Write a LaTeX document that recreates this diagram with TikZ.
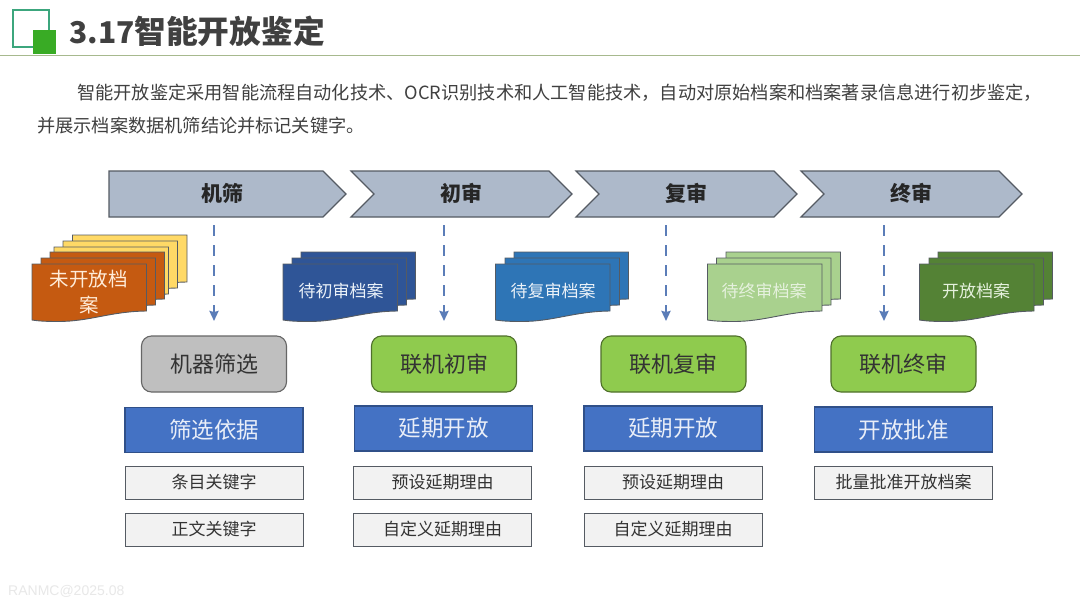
\documentclass[tikz,border=0pt]{standalone}
\usepackage{fontspec}
\setmainfont{Noto Sans CJK SC}
\newfontfamily\wmfont{Liberation Sans}
\usetikzlibrary{arrows.meta}
\newcommand\fsz[1]{\fontsize{#1pt}{#1pt}\selectfont}
\definecolor{cOrange}{HTML}{C55A11}
\definecolor{cYellow}{HTML}{FFD966}
\definecolor{cNavy}{HTML}{2F5597}
\definecolor{cBlue}{HTML}{2E75B6}
\definecolor{cSage}{HTML}{A9D18E}
\definecolor{cMoss}{HTML}{548235}
\definecolor{cHead}{HTML}{4472C4}
\definecolor{cGrey}{HTML}{BFBFBF}
\definecolor{cLime}{HTML}{8FCB4E}
\definecolor{cChev}{HTML}{ADB9CA}
\definecolor{cDark}{HTML}{404040}
\definecolor{cEdge}{HTML}{555B63}
\definecolor{cArrow}{HTML}{5B7DB8}
\definecolor{cSquare}{HTML}{39AB25}
\definecolor{cFrame}{HTML}{3CA67D}
\definecolor{cRule}{HTML}{A7B98E}
\newcommand\docpage[3]{\draw[docline,fill=#3,shift={(#1,#2)}] (0,0) -- (114.5,0) -- (114.5,47)
  .. controls (78,47.5) and (58,57.5) .. (26,57.5) .. controls (14,57.5) and (6,57) .. (0,56) -- cycle;}
\tikzset{
  x=1pt,y=-1pt,
  docline/.style={draw=cEdge,line width=0.9pt},
  stagebox/.style={draw=cEdge,fill=cChev,line width=1.1pt},
  stagetext/.style={text=black!85,font=\fsz{21}\bfseries},
  flowarrow/.style={draw=cArrow,line width=2.6pt,dash pattern=on 11pt off 9pt,-{Stealth[length=10pt,width=9pt,inset=1pt]}},
  modebox/.style={draw=#1,rounded corners=10pt,line width=1.1pt,minimum width=145pt,minimum height=56pt,inner sep=0pt,text=black!80,font=\fsz{22}},
  headbox/.style={draw=cHead!70!black,fill=cHead,line width=1.1pt,minimum width=178pt,minimum height=45pt,inner sep=0pt,text=cHead!12!white,font=\fsz{22.5}},
  itembox/.style={draw=cEdge,fill=black!5,line width=1pt,minimum width=178pt,minimum height=33pt,inner sep=0pt,text=black!80,font=\fsz{17}},
  doclabel/.style={font=\fsz{17},inner sep=0pt},
}
\begin{document}
\begin{tikzpicture}
\useasboundingbox (0,0) rectangle (1080,608);
\fill[white] (0,0) rectangle (1080,608);
% header
\draw[draw=cFrame,line width=2pt] (13,9.5) rectangle (49,47);
\fill[fill=cSquare] (33,30) rectangle (56,54);
\draw[draw=cRule,line width=0.9pt] (0,55) -- (1080,55);
\node[anchor=west,inner sep=0pt,text=cDark,font=\fsz{31.7}\bfseries] (title) at (69,31) {{\fsz{30}3.17}智能开放鉴定};
\node[anchor=west,inner sep=0pt,text=cDark,font=\fsz{18.2}] (bodya) at (77,93) {智能开放鉴定采用智能流程自动化技术、OCR识别技术和人工智能技术^^^^ff0c自动对原始档案和档案著录信息进行初步鉴定^^^^ff0c};
\node[anchor=west,inner sep=0pt,text=cDark,font=\fsz{18.2}] (bodyb) at (37,126) {并展示档案数据机筛结论并标记关键字。};
% stages
\draw[stagebox] (109,171) -- (323,171) -- (346,194) -- (323,217) -- (109,217) -- cycle;
\draw[stagebox] (351,171) -- (549,171) -- (572,194) -- (549,217) -- (351,217) -- (374,194) -- cycle;
\draw[stagebox] (576,171) -- (774,171) -- (797,194) -- (774,217) -- (576,217) -- (599,194) -- cycle;
\draw[stagebox] (801,171) -- (999,171) -- (1022,194) -- (999,217) -- (801,217) -- (824,194) -- cycle;
\node[stagetext] (s1) at (222,193) {机筛};
\node[stagetext] (s2) at (461,193) {初审};
\node[stagetext] (s3) at (686,193) {复审};
\node[stagetext] (s4) at (911,193) {终审};
% document stacks
\docpage{72.5}{235}{cYellow}\docpage{63}{241}{cYellow}\docpage{54}{247}{cYellow}
\docpage{50}{252}{cOrange}\docpage{41}{258}{cOrange}\docpage{32}{264}{cOrange}
\node[align=center,inner sep=0pt,text=orange!15!white,font=\fontsize{19.5pt}{26pt}\selectfont,text width=110pt] (d1) at (89,292) {未开放档\\案};
\docpage{301}{252}{cNavy}\docpage{292}{258}{cNavy}\docpage{283}{264}{cNavy}
\node[doclabel,text=cBlue!10!white] (d2) at (341,291) {待初审档案};
\docpage{514}{252}{cBlue}\docpage{505}{258}{cBlue}\docpage{495.5}{264}{cBlue}
\node[doclabel,text=cBlue!10!white] (d3) at (553,291) {待复审档案};
\docpage{726}{252}{cSage}\docpage{716.5}{258}{cSage}\docpage{707.5}{264}{cSage}
\node[doclabel,text=cSage!30!white] (d4) at (764,291) {待终审档案};
\docpage{938}{252}{cMoss}\docpage{929}{258}{cMoss}\docpage{919.5}{264}{cMoss}
\node[doclabel,text=cSage!30!white] (d5) at (976,291) {开放档案};
% modes
\node[modebox=black!60,fill=cGrey] (m1) at (214,364) {机器筛选};
\node[modebox=cLime!55!black,fill=cLime] (m2) at (444,364) {联机初审};
\node[modebox=cLime!55!black,fill=cLime] (m3) at (673.5,364) {联机复审};
\node[modebox=cLime!55!black,fill=cLime] (m4) at (903.5,364) {联机终审};
% connectors
\coordinate (a1) at (214,225); \coordinate (b1) at (214,321);
\coordinate (a2) at (444,225); \coordinate (b2) at (444,321);
\coordinate (a3) at (666,225); \coordinate (b3) at (666,321);
\coordinate (a4) at (884,225); \coordinate (b4) at (884,321);
\draw[flowarrow] (a1) -- (b1);
\draw[flowarrow] (a2) -- (b2);
\draw[flowarrow] (a3) -- (b3);
\draw[flowarrow] (a4) -- (b4);
% headings
\node[headbox] (h1) at (214,430) {筛选依据};
\node[headbox] (h2) at (443.5,428.5) {延期开放};
\node[headbox] (h3) at (673,428.5) {延期开放};
\node[headbox] (h4) at (903.5,429.5) {开放批准};
% items
\node[itembox] (i11) at (214,482.5) {条目关键字};
\node[itembox] (i12) at (214,529.5) {正文关键字};
\node[itembox] (i21) at (442.5,482.5) {预设延期理由};
\node[itembox] (i22) at (442.5,529.5) {自定义延期理由};
\node[itembox] (i31) at (673,482.5) {预设延期理由};
\node[itembox] (i32) at (673,529.5) {自定义延期理由};
\node[itembox] (i41) at (903.5,482.5) {批量批准开放档案};
% watermark
\node[anchor=west,inner sep=0pt,text=black!9,font=\wmfont\fsz{14}] (wm) at (8,591) {RANMC@2025.08};
\end{tikzpicture}
\end{document}
